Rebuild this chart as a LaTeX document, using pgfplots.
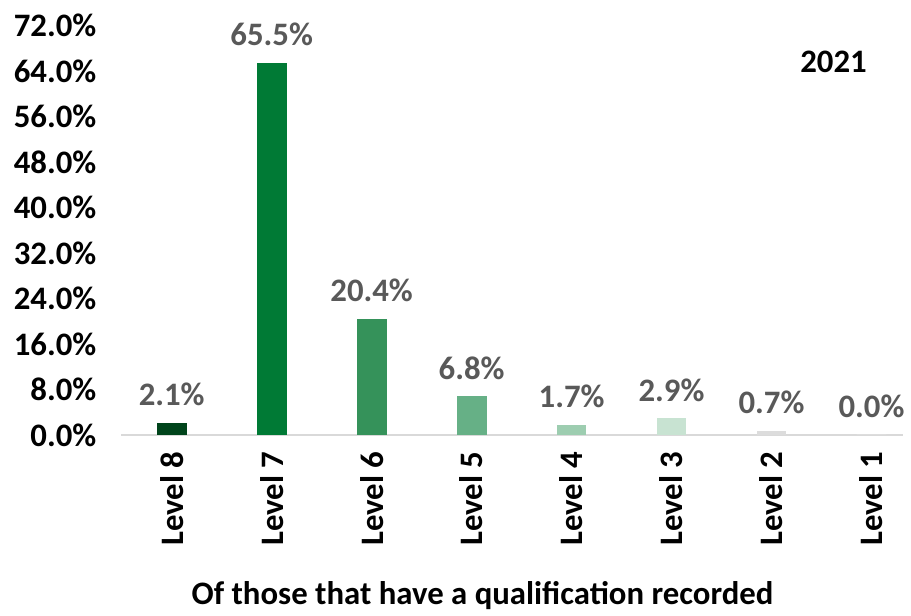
\documentclass[border=0pt]{standalone}
\usepackage{pgfplots}
\pgfplotsset{compat=1.18}
\usepackage{fontspec}
\setmainfont{Carlito}
\definecolor{lv8}{HTML}{00441B}
\definecolor{lv7}{HTML}{007A35}
\definecolor{lv6}{HTML}{35925A}
\definecolor{lv5}{HTML}{66B086}
\definecolor{lv4}{HTML}{9DCDB0}
\definecolor{lv3}{HTML}{C8E3D2}
\definecolor{lv2}{HTML}{DCDCDC}
\definecolor{lv1}{HTML}{FFFFFF}
\definecolor{lbl}{HTML}{595959}
\definecolor{axln}{HTML}{D9D9D9}
\begin{document}
\begin{tikzpicture}
\begin{axis}[scale only axis,width=394bp,height=206bp,
  font=\fontsize{16.5bp}{19bp}\selectfont\bfseries,
  /pgf/number format/assume math mode=true,
  ymin=0,ymax=72,xmin=-0.506,xmax=7.32,clip=false,
  axis lines*=left, x axis line style={draw=axln,line width=0.8pt},
  y axis line style={draw=none}, major tick length=0pt,
  ytick={0,8,...,72},
  yticklabel={\pgfmathprintnumber[fixed,fixed zerofill,precision=1]{\tick}\%},
  yticklabel style={xshift=-9bp},
  xtick={0,...,7},
  xticklabels={Level 8,Level 7,Level 6,Level 5,Level 4,Level 3,Level 2,Level 1},
  xticklabel style={rotate=90,anchor=east},
  xticklabel shift={5bp},
  xlabel={Of those that have a qualification recorded},
  xlabel style={yshift=-11bp,xshift=-15bp},
  ybar, bar width=15bp, bar shift=0pt,
  nodes near coords={\pgfmathprintnumber[fixed,fixed zerofill,precision=1]{\pgfplotspointmeta}\%},
  every node near coord/.append style={color=lbl,anchor=south,yshift=5bp},
]
\addplot[fill=lv8,draw=none] coordinates {(0,2.1)};
\addplot[fill=lv7,draw=none] coordinates {(1,65.5)};
\addplot[fill=lv6,draw=none] coordinates {(2,20.4)};
\addplot[fill=lv5,draw=none] coordinates {(3,6.8)};
\addplot[fill=lv4,draw=none] coordinates {(4,1.7)};
\addplot[fill=lv3,draw=none] coordinates {(5,2.9)};
\addplot[fill=lv2,draw=none] coordinates {(6,0.7)};
\addplot[fill=lv1,draw=none] coordinates {(7,0.0)};
\node[font=\fontsize{16.5bp}{19bp}\selectfont\bfseries] at (axis cs:6.62,65.7) {2021};
\path (rel axis cs:-0.1548,-0.4199) rectangle (rel axis cs:1.0013,1.0631);
\end{axis}
\end{tikzpicture}
\end{document}
